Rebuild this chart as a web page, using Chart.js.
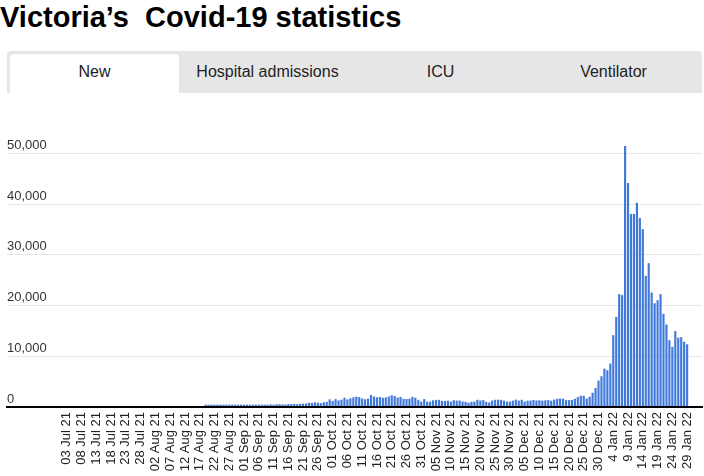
<!DOCTYPE html>
<html>
<head>
<meta charset="utf-8">
<script src="https://cdn.jsdelivr.net/npm/chart.js@4"></script>
<style>
  body { margin: 0; width: 704px; height: 476px; background: #fff; font-family: "Liberation Sans", Arial, sans-serif; position: relative; overflow: hidden; }
  h1 { position: absolute; left: 0; top: 3px; margin: 0; font-size: 29px; line-height: 29px; font-weight: bold; color: #000; white-space: pre; }
  .tabs { position: absolute; left: 7px; top: 51px; width: 695px; height: 42px; background: #e6e6e6; border-radius: 4px 4px 0 0; }
  .tab { position: absolute; top: 3px; width: 173px; height: 39px; line-height: 36px; text-align: center; font-size: 16px; color: #222; }
  .tab.active { background: #fff; border-radius: 4px 4px 0 0; width: 169px; }
  #chartBox { position: absolute; left: 0; top: 100px; width: 704px; height: 376px; }
</style>
</head>
<body>
<h1>Victoria’s  Covid-19 statistics</h1>
<div class="tabs">
  <div class="tab active" style="left:3px">New</div>
  <div class="tab" style="left:174px">Hospital admissions</div>
  <div class="tab" style="left:347px">ICU</div>
  <div class="tab" style="left:520px">Ventilator</div>
</div>
<div id="chartBox"><canvas id="casesChart" width="704" height="376"></canvas></div>
<script>
// Tick labels, one every 5 days from 03 Jul 21 (day 0)
const tickLabels = [
  '03 Jul 21', '08 Jul 21', '13 Jul 21', '18 Jul 21', '23 Jul 21', '28 Jul 21',
  '02 Aug 21', '07 Aug 21', '12 Aug 21', '17 Aug 21', '22 Aug 21', '27 Aug 21',
  '01 Sep 21', '06 Sep 21', '11 Sep 21', '16 Sep 21', '21 Sep 21', '26 Sep 21',
  '01 Oct 21', '06 Oct 21', '11 Oct 21', '16 Oct 21', '21 Oct 21', '26 Oct 21', '31 Oct 21',
  '05 Nov 21', '10 Nov 21', '15 Nov 21', '20 Nov 21', '25 Nov 21', '30 Nov 21',
  '05 Dec 21', '10 Dec 21', '15 Dec 21', '20 Dec 21', '25 Dec 21', '30 Dec 21',
  '4 Jan 22', '9 Jan 22', '14 Jan 22', '19 Jan 22', '24 Jan 22', '29 Jan 22'
];

// First bar is 19 Aug 21 (day 47 counted from 03 Jul 21)
const firstBarDay = 47;

// New cases per day, 19 Aug 21 .. 29 Jan 22
const newCasesAug = [60, 55, 60, 65, 70, 45, 50, 80, 65, 90, 75, 75, 120];
const newCasesSep = [120, 175, 210, 190, 185, 245, 220, 325, 335, 450, 390, 475, 475, 445, 425,
  515, 510, 535, 505, 565, 605, 630, 765, 735, 845, 780, 705, 870, 950, 1440];
const newCasesOct = [1145, 1490, 1220, 1375, 1765, 1420, 1640, 1840, 1965, 1890, 1610, 1465, 1570,
  2300, 2000, 1840, 1900, 1750, 1840, 2000, 2250, 2100, 1800, 1900,
  1530, 1530, 1560, 1920, 1750, 1350, 1000];
const newCasesNov = [1500, 990, 1000, 1250, 1350, 1340, 1150, 1130, 1200, 1000,
  1280, 1200, 1220, 1020, 960, 800, 950, 1000, 1360, 1220,
  1300, 960, 830, 1200, 1350, 1380, 1350, 1200, 1000, 990];
const newCasesDec = [1190, 1400, 1200, 1360, 1000, 1180, 1200, 1330, 1230, 1250,
  1190, 1260, 1300, 1190, 1400, 1550, 1600, 1560, 1300, 1300,
  1320, 1550, 1900, 2150, 2150, 1600, 1950, 2750, 3700, 5150, 6000];
const newCasesJan = [7500, 7200, 8500, 14100, 17700, 22200, 22000, 51400, 44100, 38000,
  38000, 40200, 37200, 35000, 25800, 28300, 22500, 20400, 21000, 22200,
  18300, 16200, 13100, 11800, 14900, 13600, 13700, 12800, 12300];

const yTicks = [0, 10000, 20000, 30000, 40000, 50000];

const newCases = [].concat(newCasesAug, newCasesSep, newCasesOct, newCasesNov, newCasesDec, newCasesJan);
const points = newCases.map((v, k) => ({ x: firstBarDay + k, y: v }));

new Chart(document.getElementById('casesChart'), {
  type: 'bar',
  data: {
    datasets: [{
      label: 'New',
      data: points,
      backgroundColor: '#4179da',
      borderWidth: 0,
      barThickness: 1.5,
      minBarLength: 2
    }]
  },
  options: {
    responsive: false,
    animation: false,
    devicePixelRatio: 1,
    layout: { padding: { left: 7, right: 2, top: 23, bottom: 0 } },
    plugins: {
      legend: { display: false },
      tooltip: { enabled: false }
    },
    scales: {
      x: {
        type: 'linear',
        min: -17.5,
        max: 212.3,
        afterBuildTicks: scale => {
          scale.ticks = tickLabels.map((t, i) => ({ value: i * 5 }));
        },
        afterFit: scale => {
          scale.height = 69;
          scale.paddingLeft = 0;
          scale.paddingRight = 0;
        },
        grid: { display: false, drawTicks: false },
        border: { display: true, color: '#000', width: 2, z: 1 },
        ticks: {
          autoSkip: false,
          minRotation: 90,
          maxRotation: 90,
          padding: 5,
          color: '#222',
          font: { family: 'Liberation Sans, Arial', size: 13 },
          callback: (value, index) => tickLabels[index]
        }
      },
      y: {
        min: 0,
        max: 56000,
        afterBuildTicks: scale => {
          scale.ticks = yTicks.map(v => ({ value: v }));
        },
        afterFit: scale => {
          scale.width = 0;
          scale.paddingTop = 0;
          scale.paddingBottom = 0;
        },
        grid: { color: '#e6e6e6', drawTicks: false },
        border: { display: false },
        ticks: {
          mirror: true,
          padding: 0,
          labelOffset: -8,
          color: '#333',
          font: { family: 'Liberation Sans, Arial', size: 13 },
          callback: value => value.toLocaleString('en-US')
        }
      }
    }
  }
});
</script>
</body>
</html>
